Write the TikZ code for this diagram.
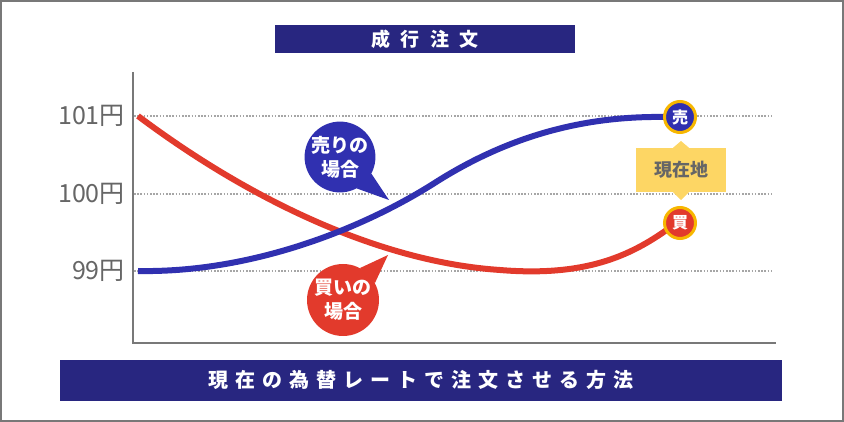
\documentclass[tikz,border=0pt]{standalone}
\usepackage{fontspec}
\setmainfont{Noto Sans CJK JP}
\newfontfamily\titlefont{Noto Sans CJK JP}[LetterSpace=55]
\newfontfamily\methodfont{Noto Sans CJK JP}[LetterSpace=35]
\usetikzlibrary{calc}
\definecolor{navy}{RGB}{40,38,128}
\definecolor{sellblue}{RGB}{48,48,176}
\definecolor{buyred}{RGB}{226,58,44}
\definecolor{ring}{RGB}{247,183,0}
\definecolor{pale}{RGB}{253,214,100}
\definecolor{txtgray}{RGB}{102,102,102}
\definecolor{framegray}{RGB}{120,120,120}

\tikzset{
  banner/.style={fill=navy, text=white, inner sep=0pt},
  pricelab/.style={text=txtgray, anchor=east, inner sep=0pt, font=\fontsize{25}{28}\selectfont},
  gridline/.style={draw=black!35, line width=1.3pt, dash pattern=on 1.5pt off 1.7pt},
  curve/.style={line width=6pt},
  bubble/.style={circle, minimum size=70pt, inner sep=0pt, text=white, align=center,
    font=\bfseries\fontsize{19}{24}\selectfont},
  marker/.style={circle, draw=ring, line width=3pt, minimum size=31pt, inner sep=0pt,
    text=white, font=\bfseries\fontsize{16}{16}\selectfont},
}

\begin{document}
\begin{tikzpicture}[x=1pt, y=-1pt]
  \useasboundingbox (0,0) rectangle (844,422);
  \draw[framegray, line width=2pt] (1,1) rectangle (843,421);

  % title and method banners
  \node[banner, minimum width=300pt, minimum height=28pt] (title) at (425,39)
    {\titlefont\bfseries\fontsize{19}{19}\selectfont 成行注文\hspace{-0.55em}};
  \node[banner, minimum width=722pt, minimum height=41pt] (method) at (421,380)
    {\methodfont\bfseries\fontsize{20}{20}\selectfont 現在の為替レートで注文させる方法\hspace{-0.35em}};

  % axes
  \coordinate (ytop) at (133,72);
  \coordinate (orig) at (133,343);
  \coordinate (xend) at (776,343);
  \draw[framegray, line width=1.6pt] (ytop) -- (orig) -- (xend);

  % price levels
  \foreach \y/\lab in {116/101, 194/100, 271/99} {
    \coordinate (gl\lab) at (134,\y);
    \coordinate (gr\lab) at (773,\y);
    \draw[gridline] (gl\lab) -- (gr\lab);
    \node[pricelab] (p\lab) at (125,\y) {\lab 円};
  }

  % curves
  \coordinate (redstart) at (138,116);
  \coordinate (redlow) at (500,270);
  \coordinate (redend) at (668,229);
  \coordinate (bluestart) at (138,271);
  \coordinate (bluemid) at (433,184);
  \coordinate (blueend) at (666,117);
  \draw[buyred, curve] (redstart) .. controls (250,200) and (380,262) .. (redlow)
    .. controls (585,277) and (630,256) .. (redend);
  \draw[sellblue, curve] (bluestart) .. controls (250,273) and (360,230) .. (bluemid)
    .. controls (520,128) and (600,116) .. (blueend);
  \node[marker, fill=sellblue] (sell) at (680,117) {売};
  \node[marker, fill=buyred] (buy) at (680,223) {買};

  % current price callout
  \node[fill=pale, minimum width=90pt, minimum height=44pt, inner sep=0pt, text=txtgray,
    font=\bfseries\fontsize{18}{18}\selectfont] (now) at (681,170) {現在地};
  \coordinate (nowup) at (681,141);
  \coordinate (nowdown) at (681,200);
  \fill[pale] ($(now.north)+(-8,0)$) -- (nowup) -- ($(now.north)+(8,0)$) -- cycle;
  \fill[pale] ($(now.south)+(-8,0)$) -- (nowdown) -- ($(now.south)+(8,0)$) -- cycle;

  % speech bubbles
  \coordinate (selltip) at (389,200);
  \coordinate (buytip) at (388,255);
  \node[bubble, fill=sellblue] (sellbub) at (340,157) {売りの\\場合};
  \fill[sellblue] (sellbub.-28) -- (selltip) -- (sellbub.-62) -- cycle;
  \node[bubble, fill=buyred, minimum size=72pt] (buybub) at (343,300) {買いの\\場合};
  \fill[buyred] (buybub.28) -- (buytip) -- (buybub.62) -- cycle;
\end{tikzpicture}
\end{document}
